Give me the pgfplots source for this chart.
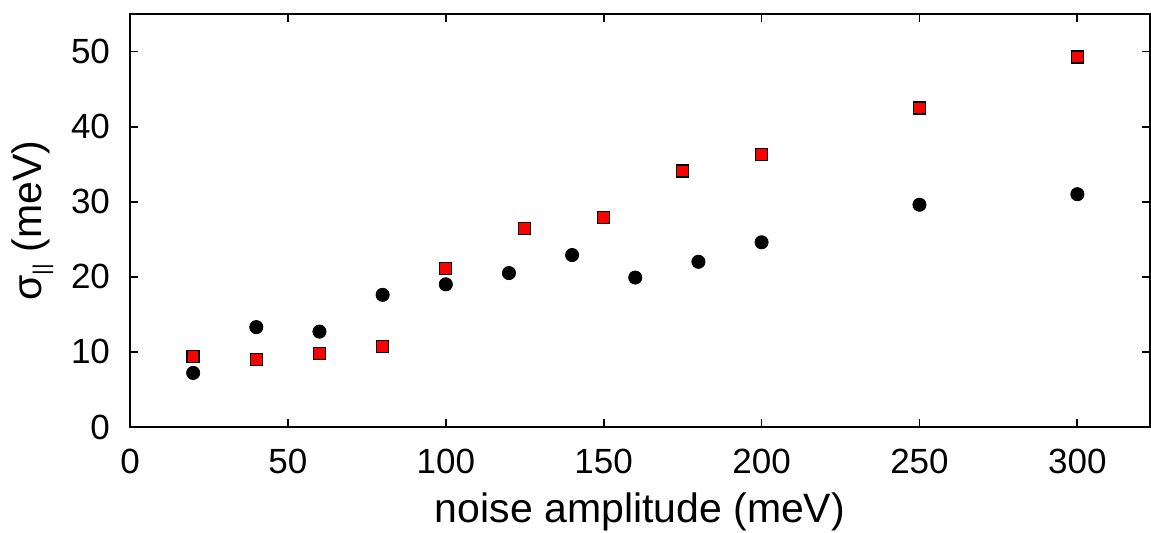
\documentclass[border=0pt]{standalone}
\usepackage{pgfplots}
\pgfplotsset{compat=1.18}
\usepackage{fontspec}
\setmainfont{Liberation Sans}
\begin{document}
\fontsize{17.5}{20}\selectfont
\begin{tikzpicture}
\begin{axis}[name=ax,
  scale only axis, width=510pt, height=206.5pt,
  xmin=0, xmax=323, ymin=0, ymax=55,
  xtick={0,50,...,300}, ytick={0,10,...,50},
  tick align=inside, major tick length=4pt,
  axis line style={line width=0.9pt},
  every tick/.style={line width=0.9pt, black},
  /pgf/number format/assume math mode=true,
  ticklabel style={font=\fontsize{17.5}{20}\selectfont},
  xticklabel style={yshift=-5pt},
  yticklabel style={xshift=-4pt},
  label style={font=\fontsize{20.5}{24}\selectfont},
  xlabel={noise amplitude (meV)},
  ylabel={σ\raisebox{-0.35ex}{\fontsize{11}{12}\selectfont ||} (meV)},
  xlabel style={yshift=2.5pt},
  ylabel style={yshift=-3pt},
]
\addplot[only marks, mark=*, mark size=3.3pt, mark options={fill=black, draw=black}] coordinates {
(20,7.2) (40,13.3) (60,12.7) (80,17.6) (100,19.0) (120,20.5) (140,22.9) (160,19.9) (180,22.0) (200,24.6) (250,29.6) (300,31.0)
};
\addplot[only marks, mark=square*, mark size=3pt, mark options={fill=red, draw=black, line width=0.7pt}] coordinates {
(20,9.4) (40,9.0) (60,9.8) (80,10.7) (100,21.1) (125,26.4) (150,27.9) (175,34.1) (200,36.3) (250,42.5) (300,49.3)
};
\end{axis}
\pgfresetboundingbox
\path ([xshift=-65pt,yshift=-53pt]ax.south west) rectangle ([xshift=0.5pt,yshift=7pt]ax.north east);
\end{tikzpicture}
\end{document}
